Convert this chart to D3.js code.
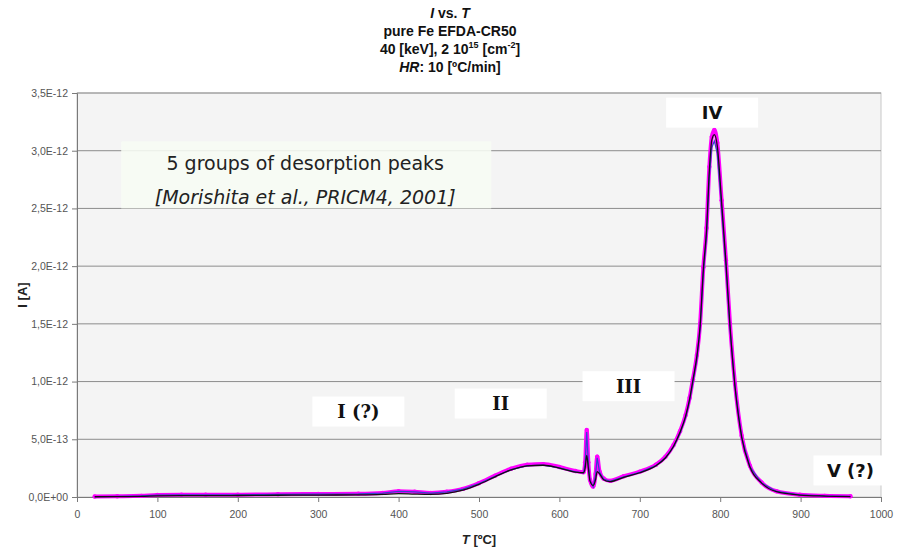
<!DOCTYPE html>
<html>
<head>
<meta charset="utf-8">
<script src="https://cdn.jsdelivr.net/npm/d3@7"></script>
<style>
  body { margin: 0; background: #fff; }
  svg { display: block; }
</style>
</head>
<body>
<div id="graph"></div>
<script>
// temperature [C] and current [x 1e-12 A]
var tempC = [22, 50, 80, 100, 130, 160, 200, 250, 300, 350, 380, 400, 420, 440, 460, 480, 500, 520, 540, 560,
  580, 600, 620, 630, 632, 634, 636, 638, 642, 645, 647, 650, 655, 663, 680, 700, 720, 732, 742, 750,
  757, 762, 766, 771, 775, 779, 783, 786.5, 789.5, 792.7, 796.4, 801.8, 807.2, 812.2, 818.4, 826.7, 837, 851.6, 870, 899, 930, 962]

var smoothI = [0.002, 0.003, 0.005, 0.01, 0.012, 0.012, 0.013, 0.015, 0.017, 0.018, 0.022, 0.03, 0.025, 0.022, 0.032, 0.06, 0.11, 0.175, 0.235, 0.27,
  0.275, 0.25, 0.215, 0.21, 0.25, 0.36, 0.25, 0.14, 0.10, 0.15, 0.22, 0.2, 0.15, 0.133, 0.17, 0.21, 0.27, 0.34, 0.44, 0.56,
  0.70, 0.85, 1.01, 1.22, 1.48, 1.97, 2.31, 2.83, 3.09, 3.14, 3.04, 2.55, 2.03, 1.48, 0.96, 0.52, 0.26, 0.12, 0.046, 0.017, 0.008, 0.004]

var rawI = [0.004, 0.006, 0.01, 0.018, 0.02, 0.02, 0.02, 0.024, 0.026, 0.028, 0.035, 0.05, 0.045, 0.035, 0.045, 0.07, 0.12, 0.185, 0.245, 0.28,
  0.285, 0.26, 0.225, 0.215, 0.3, 0.58, 0.3, 0.15, 0.09, 0.2, 0.35, 0.22, 0.16, 0.14, 0.18, 0.22, 0.28, 0.35, 0.45, 0.57,
  0.71, 0.86, 1.02, 1.23, 1.5, 1.99, 2.33, 2.86, 3.12, 3.18, 3.07, 2.57, 2.05, 1.5, 0.98, 0.53, 0.27, 0.125, 0.05, 0.02, 0.01, 0.006]

var yTicks = [0, 0.5e-12, 1.0e-12, 1.5e-12, 2.0e-12, 2.5e-12, 3.0e-12, 3.5e-12]
var xTicks = [0, 100, 200, 300, 400, 500, 600, 700, 800, 900, 1000]

var peakLabels = [
  {name: "I (?)", t: 350, v: 0.74, serif: true},
  {name: "II", t: 527, v: 0.81, serif: true},
  {name: "III", t: 686, v: 0.96, serif: true},
  {name: "IV", t: 790, v: 3.33, serif: false},
  {name: "V (?)", t: 962, v: 0.23, serif: false}
]

var W = 899, H = 548
var margin = {top: 93, right: 18, bottom: 51, left: 77}
var width = W - margin.left - margin.right,
  height = H - margin.top - margin.bottom

var svg = d3.select('#graph').append('svg')
  .attr('width', W).attr('height', H)
  .style('font-family', '"Liberation Sans", Arial, sans-serif')

var g = svg.append('g')
  .attr('transform', 'translate(' + margin.left + ',' + margin.top + ')')

var x = d3.scaleLinear().domain([0, 1000]).range([0, width])
var y = d3.scaleLinear().domain([0, 3.5e-12]).range([height, 0])

function sciComma(d) {
  if (d == 0) return '0,0E+00'
  var e = Math.floor(Math.log10(d) + 1e-9)
  var m = d / Math.pow(10, e)
  var ee = Math.abs(e)
  return m.toFixed(1).replace('.', ',') + 'E' + (e < 0 ? '-' : '+') + (ee < 10 ? '0' : '') + ee
}

// plot background + frame
g.append('rect')
  .attr('width', width).attr('height', height)
  .attr('fill', '#f4f4f4')
  .attr('stroke', '#c8c8c8')

// gridlines
g.selectAll('.grid')
  .data(yTicks.slice(1))
  .enter().append('line')
  .attr('x1', 0).attr('x2', width)
  .attr('y1', function(d) { return y(d) })
  .attr('y2', function(d) { return y(d) })
  .attr('stroke', '#8c8c8c').attr('stroke-width', 1)

// y axis
var yAxis = g.append('g')
  .call(d3.axisLeft(y).tickValues(yTicks).tickFormat(sciComma).tickSize(5).tickPadding(4))
yAxis.select('.domain').attr('stroke', '#7a7a7a')
yAxis.selectAll('line').attr('stroke', '#7a7a7a')
yAxis.selectAll('text').attr('font-size', 10.5).attr('fill', '#555')
  .style('font-family', '"Liberation Sans", Arial, sans-serif')

// x axis
var xAxis = g.append('g')
  .attr('transform', 'translate(0,' + height + ')')
  .call(d3.axisBottom(x).tickValues(xTicks).tickFormat(d3.format('d')).tickSize(5).tickPadding(9))
xAxis.select('.domain').attr('stroke', '#7a7a7a')
xAxis.selectAll('line').attr('stroke', '#7a7a7a')
xAxis.selectAll('text').attr('font-size', 10.5).attr('fill', '#555')
  .style('font-family', '"Liberation Sans", Arial, sans-serif')

// data
var pts = tempC.map(function(t, i) { return {t: t, raw: rawI[i] * 1e-12, sm: smoothI[i] * 1e-12} })

var rawLine = d3.line()
  .x(function(d) { return x(d.t) })
  .y(function(d) { return y(d.raw) })
  .curve(d3.curveMonotoneX)
var smLine = d3.line()
  .x(function(d) { return x(d.t) })
  .y(function(d) { return y(d.sm) })
  .curve(d3.curveMonotoneX)

g.append('path').datum(pts)
  .attr('d', rawLine)
  .attr('fill', 'none')
  .attr('stroke', '#ff00ff')
  .attr('stroke-width', 4)
  .attr('stroke-linejoin', 'round')
  .attr('stroke-linecap', 'round')

g.selectAll('.dot')
  .data(pts)
  .enter().append('circle')
  .attr('cx', function(d) { return x(d.t) })
  .attr('cy', function(d) { return y(d.raw) })
  .attr('r', 2.2)
  .attr('fill', '#ff00ff')

g.append('path').datum(pts)
  .attr('d', d3.line().x(function(d) { return x(d.t) }).y(function(d) { return y(d.raw * 0.97) }))
  .attr('fill', 'none')
  .attr('stroke', '#3344cc')
  .attr('stroke-width', 1.2)

g.append('path').datum(pts)
  .attr('d', smLine)
  .attr('fill', 'none')
  .attr('stroke', '#111')
  .attr('stroke-width', 1.3)

// info box
var box = g.append('g').attr('transform', 'translate(' + (x(55)) + ',' + (y(3.02e-12) - 7) + ')')
box.append('rect')
  .attr('width', 370).attr('height', 67)
  .attr('fill', '#f7fcf4').attr('fill-opacity', 0.88)
box.append('text')
  .attr('x', 184).attr('y', 29)
  .attr('text-anchor', 'middle')
  .attr('font-family', '"DejaVu Sans", Verdana, sans-serif')
  .attr('font-size', 19).attr('fill', '#222')
  .text('5 groups of desorption peaks')
box.append('text')
  .attr('x', 184).attr('y', 63)
  .attr('text-anchor', 'middle')
  .attr('font-family', '"DejaVu Sans", Verdana, sans-serif')
  .attr('font-style', 'italic')
  .attr('font-size', 19).attr('fill', '#222')
  .text('[Morishita et al., PRICM4, 2001]')

// peak labels
var lab = svg.selectAll('.peak')
  .data(peakLabels)
  .enter().append('g')
  .attr('transform', function(d) { return 'translate(' + (margin.left + x(d.t)) + ',' + (margin.top + y(d.v * 1e-12)) + ')' })
lab.append('rect')
  .attr('x', function(d) { return d.name == 'V (?)' ? -37 : -46 })
  .attr('y', -15)
  .attr('width', function(d) { return d.name == 'V (?)' ? 80 : 92 })
  .attr('height', 30)
  .attr('fill', '#fff')
lab.append('text')
  .attr('text-anchor', 'middle')
  .attr('dy', '0.36em')
  .attr('font-weight', 'bold')
  .attr('font-size', 18)
  .attr('fill', '#111')
  .attr('font-family', function(d) { return d.serif ? '"DejaVu Serif", serif' : '"DejaVu Sans", Verdana, sans-serif' })
  .text(function(d) { return d.name })

// title
var title = svg.append('text')
  .attr('text-anchor', 'middle')
  .attr('font-weight', 'bold')
  .attr('font-size', 14)
  .attr('fill', '#111')
var t1 = title.append('tspan').attr('x', 450).attr('y', 18)
t1.append('tspan').attr('font-style', 'italic').text('I')
t1.append('tspan').text(' vs. ')
title.append('tspan').attr('font-style', 'italic').text('T')
title.append('tspan').attr('x', 450).attr('y', 36).text('pure Fe EFDA-CR50')
title.append('tspan').attr('x', 450).attr('y', 54).text('40 [keV], 2 10')
title.append('tspan').attr('dy', -6).attr('font-size', 9).text('15')
title.append('tspan').attr('dy', 6).text(' [cm')
title.append('tspan').attr('dy', -6).attr('font-size', 9).text('-2')
title.append('tspan').attr('dy', 6).text(']')
var t4 = title.append('tspan').attr('x', 450).attr('y', 72)
t4.append('tspan').attr('font-style', 'italic').text('HR')
title.append('tspan').text(': 10 [ºC/min]')

// axis titles
svg.append('text')
  .attr('transform', 'translate(27,' + (margin.top + height / 2) + ') rotate(-90)')
  .attr('text-anchor', 'middle')
  .attr('font-weight', 'bold').attr('font-size', 13).attr('fill', '#222')
  .text('I [A]')

var xt = svg.append('text')
  .attr('x', margin.left + width / 2).attr('y', 544)
  .attr('text-anchor', 'middle')
  .attr('font-weight', 'bold').attr('font-size', 13).attr('fill', '#222')
xt.append('tspan').attr('font-style', 'italic').text('T')
xt.append('tspan').text(' [ºC]')
</script>
</body>
</html>
